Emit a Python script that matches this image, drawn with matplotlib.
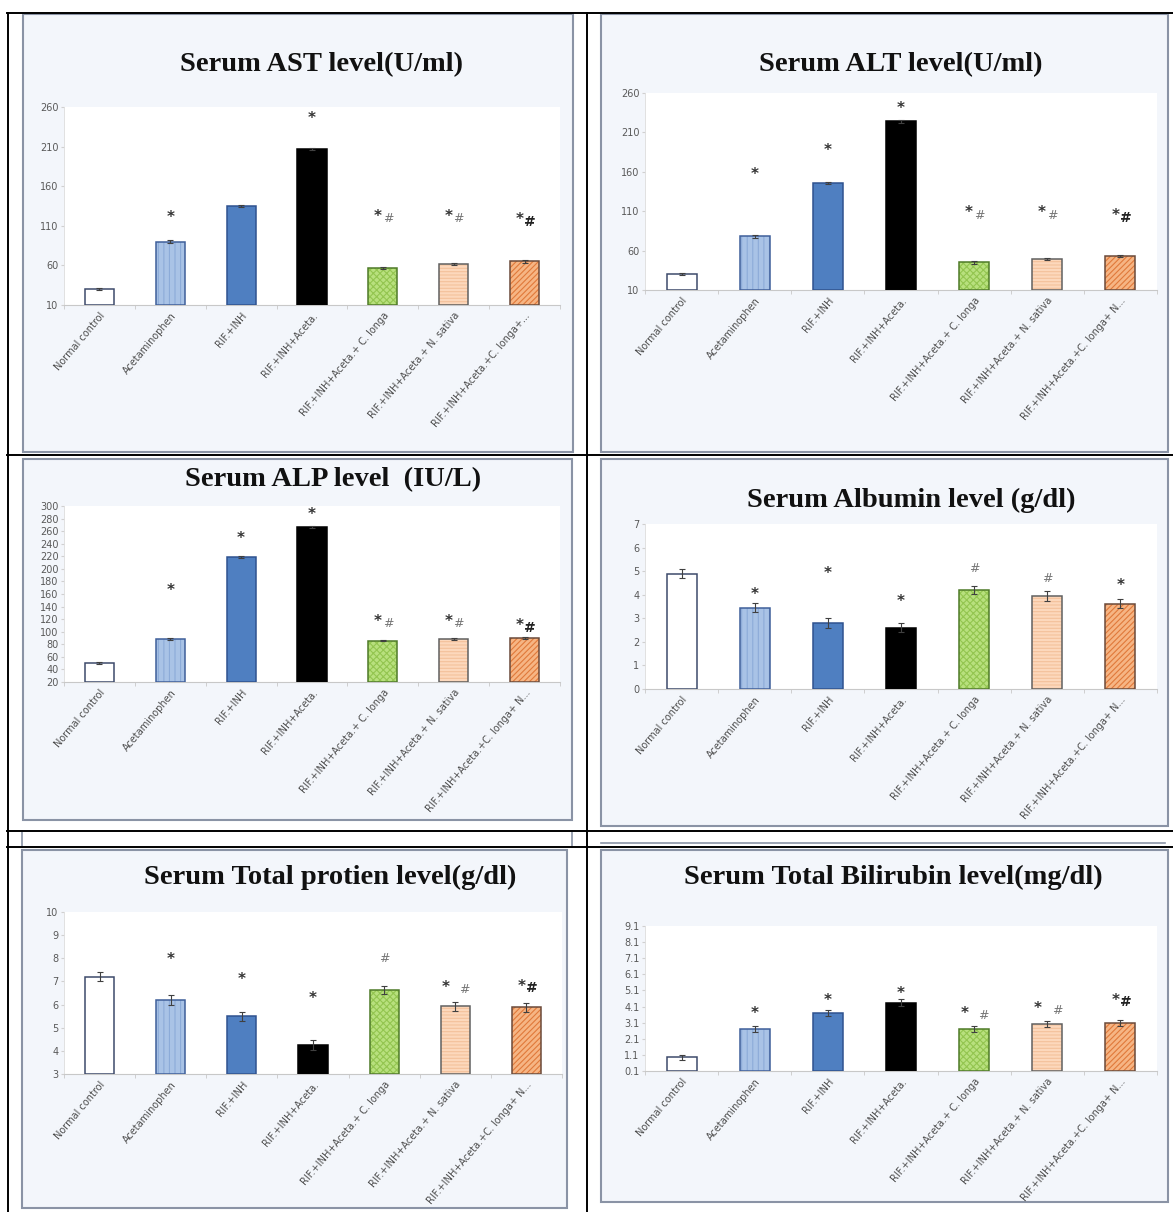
import numpy as np
import matplotlib.pyplot as plt
from matplotlib.patches import Rectangle
from matplotlib.lines import Line2D

W, H = 1173, 1212

groups = ["Normal control", "Acetaminophen", "RIF.+INH", "RIF.+INH+Aceta.",
          "RIF.+INH+Aceta.+ C. longa", "RIF.+INH+Aceta.+ N. sativa",
          "RIF.+INH+Aceta.+C. longa+ N..."]
groups_ast = groups[:-1] + ["RIF.+INH+Aceta.+C. longa+..."]

ast = [30, 90, 135, 207, 57, 62, 65]
ast_err = [1.5, 1.5, 1.2, 1.5, 1.5, 1.5, 1.5]
alt = [30, 78, 146, 224, 45, 49, 53]
alt_err = [1.5, 1.5, 1.5, 1.5, 1.5, 1.2, 1.2]
alp = [50, 88, 219, 267, 86, 88, 90]
alp_err = [1.5, 1.5, 1.5, 1.5, 1.5, 1.5, 1.5]
albumin = [4.9, 3.45, 2.8, 2.6, 4.2, 3.95, 3.62]
albumin_err = [0.18, 0.2, 0.22, 0.18, 0.18, 0.2, 0.2]
protein = [7.2, 6.2, 5.5, 4.25, 6.63, 5.92, 5.88]
protein_err = [0.2, 0.2, 0.2, 0.2, 0.18, 0.2, 0.2]
bilirubin = [0.95, 2.7, 3.7, 4.35, 2.7, 3.02, 3.08]
bilirubin_err = [0.15, 0.2, 0.2, 0.2, 0.2, 0.2, 0.2]

# significance marks: (group index, text, height in data units)
ast_sig = [(1, "*", 120), (3, "*", 245), (4, "*#", 122), (5, "*#", 122), (6, "*#", 118)]
alt_sig = [(1, "*", 157), (2, "*", 187), (3, "*", 240), (4, "*#", 108), (5, "*#", 108), (6, "*#", 105)]
alp_sig = [(1, "*", 166), (2, "*", 249), (3, "*", 287), (4, "*#", 116), (5, "*#", 116), (6, "*#", 110)]
albumin_sig = [(1, "*", 4.0), (2, "*", 4.9), (3, "*", 3.7), (4, "#", 5.1), (5, "#", 4.7), (6, "*", 4.4)]
protein_sig = [(1, "*", 7.95), (2, "*", 7.1), (3, "*", 6.25), (4, "#", 8.0), (5, "* #", 6.75), (6, "*#", 6.8)]
bilirubin_sig = [(1, "*", 3.65), (2, "*", 4.5), (3, "*", 4.9), (4, "* #", 3.65), (5, "* #", 3.95), (6, "*#", 4.5)]

# face, hatch pattern, hatch colour, edge colour for each group
styles = [
    ("white", None, None, "#3d4a6b"),
    ("#a9c3e6", "|||", "#8cabd8", "#3f5f9a"),
    ("#4f7fc1", None, None, "#2f528f"),
    ("black", None, None, "black"),
    ("#b8e07e", "xxxxx", "#93c550", "#4e7a28"),
    ("#fcd8bc", "-----", "#f4c19b", "#606060"),
    ("#f6b584", "//////", "#e0793a", "#6b4a3a"),
]

plt.rcParams["hatch.linewidth"] = 0.8

fig = plt.figure(figsize=(W / 100, H / 100), dpi=100)
fig.patch.set_facecolor("white")


def rect(x0, y0, x1, y1):
    return [x0 / W, 1 - y1 / H, (x1 - x0) / W, (y1 - y0) / H]


def hline(y, x0, x1, color="black", lw=1.4):
    fig.add_artist(Line2D([x0 / W, x1 / W], [1 - y / H, 1 - y / H], color=color, lw=lw))


def vline(x, y0, y1, color="black", lw=1.4):
    fig.add_artist(Line2D([x / W, x / W], [1 - y0 / H, 1 - y1 / H], color=color, lw=lw))


def frame(x0, y0, x1, y1):
    fig.add_artist(Rectangle((x0 / W, 1 - y1 / H), (x1 - x0) / W, (y1 - y0) / H,
                             transform=fig.transFigure, facecolor="#f3f6fb",
                             edgecolor="#8a93a5", lw=1.5, zorder=0))


def mark(ax, i, yy, txt, span):
    # star and hash drawn separately so the hash can be lighter / bold
    bold = i == 6 and txt == "*#"
    if txt == "*":
        ax.text(i, yy, "*", ha="center", va="center", fontsize=11,
                color="#333333", fontweight="bold", zorder=5)
        return
    if txt == "#":
        ax.text(i, yy, "#", ha="center", va="center", fontsize=9,
                color="#777777", zorder=5)
        return
    gap = 0.13 if txt == "* #" else 0.07
    ax.text(i - gap, yy, "*", ha="center", va="center", fontsize=11,
            color="#333333", fontweight="bold", zorder=5)
    ax.text(i + gap, yy - span * 0.012, "#", ha="center", va="center",
            fontsize=10 if bold else 9, color="#222222" if bold else "#777777",
            fontweight="bold" if bold else "normal", zorder=5)


def panel(box, title, tpos, vals, errs, ylim, ticks, ticklabels, sig, labels):
    ax = fig.add_axes(rect(*box))
    ax.set_facecolor("white")
    x = np.arange(len(vals))
    base = ylim[0]
    heights = np.array(vals) - base
    for i, (fc, hatch, hc, ec) in enumerate(styles):
        ax.bar(x[i], heights[i], bottom=base, width=0.41, color=fc,
               hatch=hatch, edgecolor=hc if hatch else fc, lw=0, zorder=2)
        ax.bar(x[i], heights[i], bottom=base, width=0.41, fill=False,
               edgecolor=ec, lw=1.1, zorder=3)
    ax.errorbar(x, vals, yerr=errs, fmt="none", ecolor="#404040", elinewidth=0.8,
                capsize=2.5, capthick=0.8, zorder=4)
    for i, txt, yy in sig:
        mark(ax, i, yy, txt, ylim[1] - ylim[0])
    ax.set_xlim(-0.5, len(vals) - 0.5)
    ax.set_ylim(*ylim)
    ax.set_yticks(ticks)
    ax.set_yticklabels(ticklabels, fontsize=7, color="#595959")
    ax.set_xticks(x)
    ax.set_xticklabels(labels, rotation=50, ha="right", rotation_mode="anchor",
                       fontsize=7.0, color="#4d4d4d")
    ax.set_xticks(np.arange(-0.5, len(vals)), minor=True)
    ax.tick_params(axis="x", which="major", length=0, pad=4)
    ax.tick_params(axis="x", which="minor", length=3, color="#c8c8c8")
    ax.tick_params(axis="y", length=2, color="#d0d0d0", pad=2)
    for s in ["top", "right"]:
        ax.spines[s].set_visible(False)
    ax.spines["bottom"].set_color("#c8c8c8")
    ax.spines["left"].set_color("#dcdcdc")
    ax.spines["left"].set_linewidth(0.6)
    fig.text(tpos[0] / W, 1 - tpos[1] / H, title, ha="center", va="center",
             fontsize=20.5, fontweight="bold", family="Liberation Serif", color="#111111")
    return ax


# panel backgrounds
frame(23, 14, 573, 452)
frame(601, 14, 1168, 452)
frame(23, 459, 572, 820)
frame(601, 459, 1168, 826)
frame(22, 850, 567, 1208)
frame(601, 850, 1168, 1202)
hline(843, 601, 1165, color="#8a93a5", lw=1.2)
vline(22, 831, 847, color="#8a93a5", lw=1.2)
vline(572, 831, 847, color="#8a93a5", lw=1.2)

# table rules
hline(13, 7, 1173)
hline(455, 7, 1173)
hline(831, 7, 1173)
hline(847, 7, 1173)
vline(8, 13, 1212)
vline(587, 13, 1212)

panel((64, 107, 560, 305), "Serum AST level(U/ml)", (322, 65),
      ast, ast_err, (10, 260), np.arange(10, 261, 50),
      [str(v) for v in range(10, 261, 50)], ast_sig, groups_ast)
panel((645, 93, 1157, 290), "Serum ALT level(U/ml)", (901, 65),
      alt, alt_err, (10, 260), np.arange(10, 261, 50),
      [str(v) for v in range(10, 261, 50)], alt_sig, groups)
panel((64, 506, 560, 682), "Serum ALP level  (IU/L)", (333, 480),
      alp, alp_err, (20, 300), np.arange(20, 301, 20),
      [str(v) for v in range(20, 301, 20)], alp_sig, groups)
panel((645, 524, 1157, 689), "Serum Albumin level (g/dl)", (911, 500),
      albumin, albumin_err, (0, 7), np.arange(0, 8),
      [str(v) for v in range(0, 8)], albumin_sig, groups)
panel((64, 912, 562, 1074), "Serum Total protien level(g/dl)", (330, 877),
      protein, protein_err, (3, 10), np.arange(3, 11),
      [str(v) for v in range(3, 11)], protein_sig, groups)
bili_ticks = np.round(np.arange(0.1, 9.2, 1.0), 1)
panel((645, 926, 1157, 1071), "Serum Total Bilirubin level(mg/dl)", (893, 877),
      bilirubin, bilirubin_err, (0.1, 9.1), bili_ticks,
      [f"{v:.1f}" for v in bili_ticks], bilirubin_sig, groups)

fig.savefig("out.png", dpi=100)
